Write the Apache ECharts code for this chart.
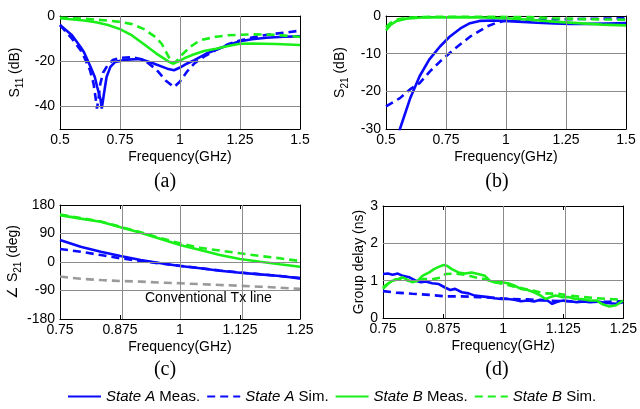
<!DOCTYPE html>
<html>
<head>
<meta charset="utf-8">
<script src="https://cdn.jsdelivr.net/npm/echarts@6/dist/echarts.min.js"></script>
<style>
html,body{margin:0;padding:0;background:#fff;}
#chart{width:640px;height:409px;}
</style>
</head>
<body>
<div id="chart"></div>
<script>
// ---------- DATA ----------
// Panel (a): S11 (dB)
const fA_Ameas = [0.5,0.55,0.585,0.6,0.627,0.645,0.655,0.669,0.674,0.683,0.694,0.71,0.73,0.78,0.835,0.89,0.947,0.975,1.0,1.03,1.06,1.11,1.15,1.2,1.25,1.3,1.36,1.43,1.5];
const s11_Ameas = [-4,-8.5,-13.6,-16,-22.5,-27,-31.4,-37,-41,-34.5,-27,-22.5,-20.3,-19.3,-19,-21,-23.3,-24,-22.8,-21,-19.5,-16.6,-15,-12.8,-11.2,-10.3,-9.6,-9.2,-9];
const fA_Asim = [0.5,0.55,0.585,0.6,0.625,0.64,0.648,0.654,0.66,0.668,0.68,0.7,0.72,0.75,0.8,0.85,0.9,0.94,0.975,1.0,1.03,1.06,1.1,1.15,1.2,1.25,1.3,1.35,1.4,1.45,1.5];
const s11_Asim = [-4,-10,-15,-18,-24,-30,-36,-41,-37,-30,-25,-21.5,-19.5,-18.5,-18.2,-19.5,-23.5,-28.5,-31.5,-29,-24.5,-21,-18,-15,-12.5,-10.8,-9.5,-8.5,-7.8,-7.2,-6.5];
const fA_Bmeas = [0.5,0.6,0.65,0.7,0.75,0.8,0.85,0.9,0.95,0.97,0.99,1.02,1.05,1.1,1.15,1.2,1.25,1.3,1.4,1.5];
const s11_Bmeas = [-1,-2,-2.8,-4,-5.8,-8.6,-12.5,-16.5,-20,-21,-20.3,-18.6,-17.3,-15.5,-14.5,-13.3,-12.3,-12.2,-12.4,-12.8];
const fA_Bsim = [0.5,0.6,0.7,0.75,0.8,0.85,0.9,0.925,0.95,0.96,0.975,0.99,1.0,1.043,1.085,1.15,1.2,1.3,1.4,1.5];
const s11_Bsim = [-0.8,-1.2,-2,-2.6,-3.6,-5.8,-9.5,-12.5,-17.5,-19.5,-21,-19.5,-18,-13.6,-10.7,-9.2,-8.5,-8.1,-8.3,-9.3];

// Panel (b): S21 (dB)
const fB_Ameas = [0.55,0.558,0.6,0.64,0.68,0.725,0.765,0.81,0.85,0.89,0.95,0.99,1.05,1.13,1.2,1.27,1.35,1.42,1.5];
const s21_Ameas = [-32,-30,-22,-16,-11.6,-8.1,-5.5,-3.3,-1.9,-1.3,-1.2,-1.3,-1.5,-1.8,-2.0,-2.1,-2.1,-2.0,-1.9];
const fB_Asim = [0.5,0.558,0.6,0.64,0.683,0.725,0.78,0.85,0.92,0.96,1.0,1.1,1.2,1.3,1.4,1.5];
const s21_Asim = [-24,-21.8,-19.5,-17.8,-14.7,-12.1,-9,-5.5,-2.8,-1.8,-1.2,-1.0,-0.9,-0.8,-0.7,-0.6];
const fB_Bmeas = [0.5,0.52,0.545,0.585,0.65,0.8,0.9,1.0,1.1,1.2,1.3,1.4,1.5];
const s21_Bmeas = [-3.8,-2.3,-1.3,-0.7,-0.4,-0.3,-0.4,-0.6,-1.0,-1.5,-1.9,-2.3,-2.5];
const fB_Bsim = [0.5,0.52,0.55,0.6,0.7,0.9,1.1,1.2,1.3,1.4,1.5];
const s21_Bsim = [-3.0,-1.8,-0.9,-0.4,-0.2,-0.2,-0.3,-0.6,-0.8,-0.9,-1.0];

// Panel (c): phase of S21 (deg)
const fC = [0.75,0.793,0.835,0.876,0.918,0.96,1.0,1.042,1.083,1.125,1.167,1.208,1.25];
const ph_Ameas = [69.5,48.4,32.6,19,6.3,-4.2,-12.6,-20,-27.4,-33.7,-39,-44,-51.6];
const ph_Asim = [41,32.6,22,11.6,3,-4.5,-12,-19.5,-27,-33,-38.5,-44,-51];
const ph_Bmeas = [148,137,127,109.5,92.6,72.6,53.7,38,22,9.5,1,-7,-15];
const ph_Bsim = [150,139,128,111,94,75,59,45,36,27.4,19,11.6,3];
const ph_Conv = [-46,-53,-57,-60,-62,-65,-67,-70,-72.6,-75,-78,-81,-85];

// Panel (d): group delay (ns)
const fD_Ameas = [0.75,0.760,0.770,0.781,0.791,0.805,0.818,0.829,0.839,0.852,0.866,0.880,0.890,0.900,0.914,0.928,0.941,0.955,0.969,0.982,0.996,1.010,1.023,1.037,1.051,1.064,1.078,1.092,1.102,1.115,1.126,1.139,1.153,1.167,1.180,1.194,1.215,1.235,1.249];
const gd_Ameas = [1.18,1.19,1.16,1.19,1.13,1.09,1.0,0.96,0.98,0.93,0.91,0.81,0.75,0.78,0.69,0.66,0.6,0.58,0.56,0.53,0.51,0.51,0.49,0.45,0.47,0.44,0.49,0.47,0.38,0.45,0.47,0.45,0.42,0.44,0.42,0.45,0.4,0.38,0.42];
const fD_Asim = [0.75,0.777,0.811,0.846,0.880,0.914,0.948,0.982,1.016,1.051,1.085,1.119,1.153,1.187,1.221,1.249];
const gd_Asim = [0.72,0.68,0.65,0.62,0.58,0.58,0.56,0.54,0.51,0.5,0.47,0.45,0.44,0.43,0.44,0.45];
const fD_Bmeas = [0.75,0.760,0.770,0.781,0.791,0.801,0.811,0.822,0.832,0.846,0.856,0.866,0.876,0.883,0.893,0.907,0.921,0.934,0.948,0.962,0.972,0.982,0.996,1.010,1.023,1.037,1.051,1.064,1.078,1.088,1.098,1.109,1.122,1.136,1.150,1.163,1.180,1.194,1.208,1.221,1.235,1.249];
const gd_Bmeas = [0.78,0.91,1.0,1.04,1.09,1.02,0.96,1.0,1.13,1.22,1.31,1.37,1.42,1.4,1.31,1.22,1.19,1.22,1.18,1.13,1.0,0.96,0.96,0.93,0.87,0.78,0.75,0.69,0.6,0.51,0.56,0.6,0.56,0.56,0.51,0.51,0.47,0.47,0.36,0.31,0.34,0.47];
const fD_Bsim = [0.75,0.764,0.777,0.791,0.811,0.832,0.852,0.873,0.880,0.900,0.921,0.941,0.962,0.982,1.003,1.023,1.044,1.064,1.085,1.112,1.139,1.167,1.194,1.221,1.249];
const gd_Bsim = [0.82,0.96,1.04,1.02,0.98,1.04,1.04,1.09,1.18,1.19,1.16,1.09,1.04,0.96,0.91,0.84,0.78,0.73,0.66,0.65,0.6,0.56,0.53,0.51,0.49];

// Tick / grid-line values
const ticksA_y = [-40, -20, 0];
const gridX_top = [0.75, 1, 1.25];
const gridX_bot = [0.875, 1, 1.125];
const gridY = [[-20, -40], [-10, -20], [90, 0, -90], [1, 2]];

// Legend / captions
const legendNames = ['State A Meas.','State A Sim.','State B Meas.','State B Sim.'];
const captions = ['(a)','(b)','(c)','(d)'];
const convLabel = 'Conventional Tx line';

// ---------- STYLE ----------
const FONT = '"Liberation Sans", Arial, Helvetica, sans-serif';
const SERIF = '"Liberation Serif", "Times New Roman", serif';
const BLUE = '#0a0aff';
const GREEN = '#1aef1a';
const GRAY = '#9a9a9a';
const GRIDC = '#8c8c8c';
const LW = 2.6;
const DASH = [8, 5];

function zip(xs, ys) { const n = Math.min(xs.length, ys.length); const o = []; for (let i = 0; i < n; i++) o.push([xs[i], ys[i]]); return o; }

const grids = [
  {left: 60, top: 16, width: 240, height: 113},
  {left: 386, top: 16, width: 240, height: 113},
  {left: 60, top: 205, width: 240, height: 114},
  {left: 383, top: 206, width: 243, height: 112}
];

const xSpec = [
  {min: 0.5, max: 1.5, interval: 0.25},
  {min: 0.5, max: 1.5, interval: 0.25},
  {min: 0.75, max: 1.25, interval: 0.125},
  {min: 0.75, max: 1.25, interval: 0.125}
];
const ySpec = [
  {min: -50, max: 0, interval: 10},
  {min: -30, max: 0, interval: 10},
  {min: -180, max: 180, interval: 90},
  {min: 0, max: 3, interval: 1}
];
const yNames = [
  '{m|S}{s|11}{m| (dB)}',
  '{m|S}{s|21}{m| (dB)}',
  '{m|\u2220 S}{s|21}{m| (deg)}',
  '{m|Group delay (ns)}'
];
const yGaps = [35, 36, 31, 17];

const xAxes = [], yAxes = [];
for (let i = 0; i < 4; i++) {
  const xs = xSpec[i], ys = ySpec[i];
  const isA = (i === 0);
  const tick = {show: true, inside: true, length: 4, lineStyle: {color: '#000'}};
  const yTick = isA ? Object.assign({customValues: ticksA_y}, tick) : tick;
  xAxes.push({
    gridIndex: i, type: 'value', position: 'bottom', min: xs.min, max: xs.max, interval: xs.interval,
    axisLine: {show: true, onZero: false, lineStyle: {color: '#000', width: 1}},
    axisTick: tick,
    axisLabel: {color: '#000', fontSize: 14, fontFamily: FONT, margin: 4,
      formatter: v => String(parseFloat(v.toFixed(3)))},
    splitLine: {show: false},
    name: 'Frequency(GHz)', nameLocation: 'middle', nameGap: 21,
    nameTextStyle: {color: '#000', fontSize: 14, fontFamily: FONT}
  });
  xAxes.push({
    gridIndex: i, type: 'value', position: 'top', min: xs.min, max: xs.max, interval: xs.interval,
    axisLine: {show: true, onZero: false, lineStyle: {color: '#000', width: 1}},
    axisTick: tick, axisLabel: {show: false}, splitLine: {show: false}
  });
  yAxes.push({
    gridIndex: i, type: 'value', position: 'left', min: ys.min, max: ys.max, interval: ys.interval,
    axisLine: {show: true, onZero: false, lineStyle: {color: '#000', width: 1}},
    axisTick: yTick,
    axisLabel: {color: '#000', fontSize: 14, fontFamily: FONT, margin: 5,
      formatter: isA ? (v => (Math.round(v) % 20 === 0 ? String(Math.round(v)) : '')) : (v => String(Math.round(v)))},
    splitLine: {show: false},
    name: yNames[i], nameLocation: 'middle', nameGap: yGaps[i],
    nameTextStyle: {color: '#000', fontSize: 14, fontFamily: FONT,
      rich: {m: {fontSize: 14, fontFamily: FONT, color: '#000'},
             s: {fontSize: 10, fontFamily: FONT, color: '#000', padding: [10, 0, 0, 0]}}}
  });
  yAxes.push({
    gridIndex: i, type: 'value', position: 'right', min: ys.min, max: ys.max, interval: ys.interval,
    axisLine: {show: true, onZero: false, lineStyle: {color: '#000', width: 1}},
    axisTick: yTick, axisLabel: {show: false}, splitLine: {show: false}
  });
}

function ln(name, panel, data, color, dashed) {
  return {
    name: name, type: 'line', xAxisIndex: panel * 2, yAxisIndex: panel * 2,
    data: data, symbol: 'none', showSymbol: false, smooth: false, clip: true,
    lineStyle: {color: color, width: LW, type: dashed ? DASH : 'solid'},
    itemStyle: {color: color}, z: 3
  };
}

// grid lines drawn through the axes' scales (markLine on an empty helper series)
function gridSeries(panel, xv, yv) {
  return {
    name: 'grid' + panel, type: 'line', xAxisIndex: panel * 2, yAxisIndex: panel * 2,
    data: [], symbol: 'none', silent: true, z: 1,
    markLine: {
      silent: true, symbol: ['none', 'none'], label: {show: false}, animation: false,
      lineStyle: {color: GRIDC, width: 1, type: 'solid'},
      emphasis: {disabled: true},
      data: xv.map(v => ({xAxis: v})).concat(yv.map(v => ({yAxis: v})))
    }
  };
}

const series = [
  gridSeries(0, gridX_top, gridY[0]),
  gridSeries(1, gridX_top, gridY[1]),
  gridSeries(2, gridX_bot, gridY[2]),
  gridSeries(3, gridX_bot, gridY[3]),
  // (a)
  ln(legendNames[0], 0, zip(fA_Ameas, s11_Ameas), BLUE, false),
  ln(legendNames[1], 0, zip(fA_Asim, s11_Asim), BLUE, true),
  ln(legendNames[2], 0, zip(fA_Bmeas, s11_Bmeas), GREEN, false),
  ln(legendNames[3], 0, zip(fA_Bsim, s11_Bsim), GREEN, true),
  // (b)
  ln(legendNames[0], 1, zip(fB_Ameas, s21_Ameas), BLUE, false),
  ln(legendNames[1], 1, zip(fB_Asim, s21_Asim), BLUE, true),
  ln(legendNames[2], 1, zip(fB_Bmeas, s21_Bmeas), GREEN, false),
  ln(legendNames[3], 1, zip(fB_Bsim, s21_Bsim), GREEN, true),
  // (c)
  ln(convLabel, 2, zip(fC, ph_Conv), GRAY, true),
  ln(legendNames[0], 2, zip(fC, ph_Ameas), BLUE, false),
  ln(legendNames[1], 2, zip(fC, ph_Asim), BLUE, true),
  ln(legendNames[2], 2, zip(fC, ph_Bmeas), GREEN, false),
  ln(legendNames[3], 2, zip(fC, ph_Bsim), GREEN, true),
  // (d)
  ln(legendNames[0], 3, zip(fD_Ameas, gd_Ameas), BLUE, false),
  ln(legendNames[1], 3, zip(fD_Asim, gd_Asim), BLUE, true),
  ln(legendNames[2], 3, zip(fD_Bmeas, gd_Bmeas), GREEN, false),
  ln(legendNames[3], 3, zip(fD_Bsim, gd_Bsim), GREEN, true)
];

const capPos = [[165, 182], [497, 182], [165, 370], [497, 370]];
const graphics = captions.map((c, i) => ({
  type: 'text', x: capPos[i][0], y: capPos[i][1], silent: true,
  style: {text: c, font: '20px ' + SERIF, fill: '#000', textAlign: 'center', textVerticalAlign: 'middle', verticalAlign: 'middle'}
}));
graphics.push({
  type: 'text', x: 145, y: 298, silent: true, z: 10,
  style: {text: convLabel, font: '14px ' + FONT, fill: '#000', textAlign: 'left', textVerticalAlign: 'middle', verticalAlign: 'middle'}
});

const option = {
  animation: false,
  backgroundColor: '#fff',
  grid: grids.map(g => Object.assign({show: false, containLabel: false}, g)),
  xAxis: xAxes,
  yAxis: yAxes,
  legend: {
    data: legendNames, left: 67, top: 389, padding: 0, itemWidth: 33, itemHeight: 14, itemGap: 6,
    itemStyle: {opacity: 0},
    textStyle: {color: '#000', fontSize: 15, fontFamily: FONT,
      rich: {i: {fontStyle: 'italic', fontSize: 15, fontFamily: FONT, color: '#000'}}},
    formatter: n => { const p = n.split(' '); return '{i|' + p[0] + ' ' + p[1] + '} ' + p[2]; }
  },
  graphic: graphics,
  series: series
};

const chart = echarts.init(document.getElementById('chart'), null, {renderer: 'canvas', width: 640, height: 409});
chart.setOption(option);
</script>
</body>
</html>
